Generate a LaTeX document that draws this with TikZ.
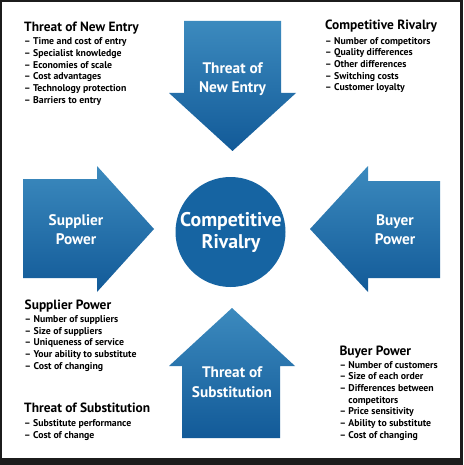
\documentclass[tikz,border=0pt]{standalone}
\usepackage{fontspec}
\setmainfont{PT Sans}
\definecolor{porter_top}{RGB}{60,138,190}
\definecolor{porter_bot}{RGB}{18,90,152}
\definecolor{porter_core}{RGB}{22,100,162}
\definecolor{porter_frame}{RGB}{28,28,28}
\usetikzlibrary{positioning}

\tikzset{
  force/.style={top color=porter_top, bottom color=porter_bot},
  forcetext/.style={text=white, font=\fontsize{15.3}{18}\selectfont\bfseries, anchor=base},
  coretext/.style={forcetext, font=\fontsize{19.8}{22}\selectfont\bfseries},
  heading/.style={font=\fontsize{13.4}{15}\selectfont\bfseries, anchor=base west},
  item/.style={font=\fontsize{9.8}{11}\selectfont\bfseries, anchor=base west}
}

\begin{document}
\begin{tikzpicture}[x=1pt, y=-1pt, every node/.style={inner sep=0pt}]
  % Rahmen
  \fill[porter_frame] (0,0) rectangle (463,465);
  \fill[white] (2,2) rectangle (460,458);
  \useasboundingbox (0,0) rectangle (463,465);

  % Pfeile
  \shade[force] (184,21) -- (281,21) -- (281,93) -- (296,93) -- (232.5,151)
    -- (169,93) -- (184,93) -- cycle;
  \shade[force] (23,179) -- (97,179) -- (97,166) -- (154,229) -- (97,292)
    -- (97,278) -- (23,278) -- cycle;
  \shade[force] (440,181) -- (368,181) -- (368,166) -- (310,229) -- (368,292)
    -- (368,278) -- (440,278) -- cycle;
  \shade[force] (182,438) -- (280,438) -- (280,366) -- (295,366) -- (232,308)
    -- (169,366) -- (182,366) -- cycle;

  % Mitte
  \fill[porter_core] (230.5,232) circle (55);
  \node[coretext] (cr1) at (231,226) {Competitive};
  \node[coretext] (cr2) at (231,248) {Rivalry};

  % Beschriftung der Pfeile
  \node[forcetext] (tne1) at (232.5,74) {Threat of};
  \node[forcetext] (tne2) at (232.5,92.5) {New Entry};
  \node[forcetext] (sp1) at (76,225) {Supplier};
  \node[forcetext] (sp2) at (76,244) {Power};
  \node[forcetext] (bp1) at (395,225) {Buyer};
  \node[forcetext] (bp2) at (395,244) {Power};
  \node[forcetext] (ts1) at (232,377) {Threat of};
  \node[forcetext] (ts2) at (232,397) {Substitution};

  % Listen
  \node[heading] (tne-h) at (24,31.5) {Threat of New Entry};
  \foreach \t [count=\i from 0] in {Time and cost of entry, Specialist knowledge,
      Economies of scale, Cost advantages, Technology protection, Barriers to entry}
    \node[item] (tne-\i) at (24,45+11.65*\i) {– \t};

  \node[heading] (cr-h) at (325,30) {Competitive Rivalry};
  \foreach \t [count=\i from 0] in {Number of competitors, Quality differences,
      Other differences, Switching costs, Customer loyalty}
    \node[item] (cr-\i) at (325,44.3+11.6*\i) {– \t};

  \node[heading] (sp-h) at (24.5,309) {Supplier Power};
  \foreach \t [count=\i from 0] in {Number of suppliers, Size of suppliers,
      Uniqueness of service, Your ability to substitute, Cost of changing}
    \node[item] (sp-\i) at (24.5,322.7+11.6*\i) {– \t};

  \node[heading] (ts-h) at (24,412.3) {Threat of Substitution};
  \foreach \t [count=\i from 0] in {Substitute performance, Cost of change}
    \node[item] (ts-\i) at (24,426.7+11.6*\i) {– \t};

  \node[heading] (bp-h) at (339.3,355) {Buyer Power};
  \foreach \t [count=\i from 0] in {– Number of customers, – Size of each order,
      – Differences between, \phantom{– }competitors, – Price sensitivity,
      – Ability to substitute, – Cost of changing}
    \node[item] (bp-\i) at (339.3,368.3+11.67*\i) {\t};
\end{tikzpicture}
\end{document}
